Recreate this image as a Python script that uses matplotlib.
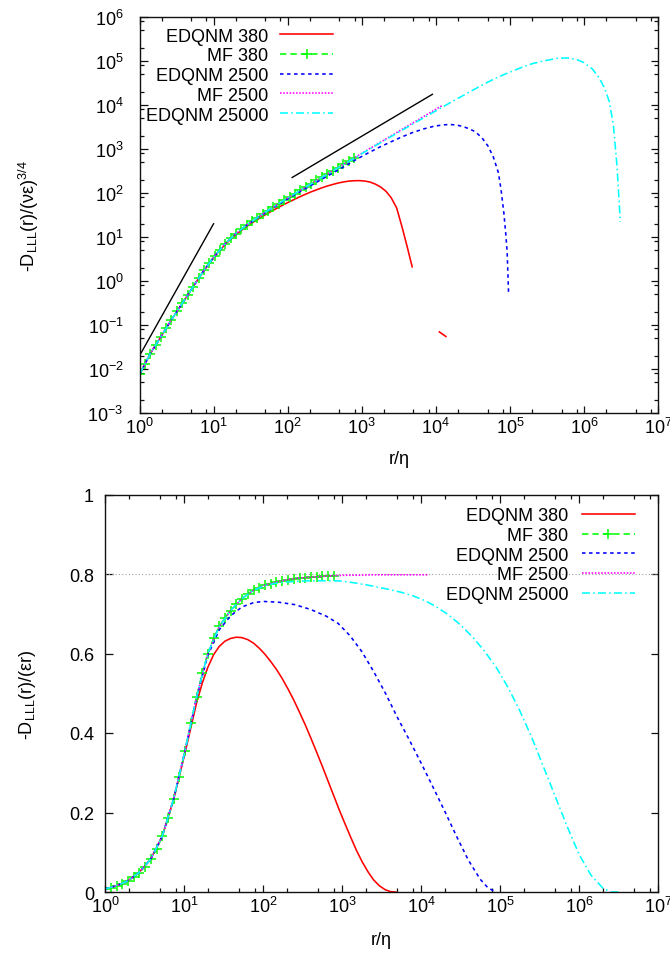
import numpy as np
import matplotlib
matplotlib.use('Agg')
import matplotlib.pyplot as plt
from matplotlib.ticker import LogLocator, NullFormatter, LogFormatterMathtext

plt.rcParams['font.family'] = ['Liberation Sans', 'DejaVu Sans']
plt.rcParams['mathtext.fontset'] = 'custom'
plt.rcParams['mathtext.rm'] = 'Liberation Sans'
plt.rcParams['mathtext.it'] = 'Liberation Sans:italic'
plt.rcParams['mathtext.bf'] = 'Liberation Sans:bold'
plt.rcParams['mathtext.default'] = 'regular'

# ---------------- data ----------------
labels = ["EDQNM 380", "MF 380", "EDQNM 2500", "MF 2500", "EDQNM 25000"]

# MF 380
r_mf380 = [1.0, 1.18, 1.4, 1.65, 1.95, 2.3, 2.7, 3.2, 3.8, 4.5, 5.3, 6.3, 7.4, 8.7, 10.3, 12.2, 14.4,
           17, 20, 23.7, 28, 33, 39, 46, 54, 64, 76, 90, 106, 125, 148, 175, 207, 245, 290, 342,
           404, 477, 564, 666, 787]
v_mf380 = [0.0075, 0.011, 0.016, 0.021, 0.028, 0.037, 0.049, 0.064, 0.083, 0.108, 0.14, 0.185, 0.235,
           0.29, 0.355, 0.425, 0.49, 0.55, 0.60, 0.638, 0.668, 0.69, 0.708, 0.724, 0.738, 0.75, 0.759,
           0.766, 0.772, 0.776, 0.78, 0.783, 0.786, 0.788, 0.79, 0.791, 0.792, 0.793, 0.794, 0.795, 0.796]
y_mf380 = [0.0075, 0.013, 0.0224, 0.0347, 0.0546, 0.0851, 0.132, 0.205, 0.315, 0.486, 0.742, 1.17, 1.74,
           2.52, 3.66, 5.19, 7.06, 9.35, 12.0, 15.1, 18.7, 22.8, 27.6, 33.3, 39.9, 48.0, 57.7, 68.9,
           81.8, 97.0, 115, 137, 163, 193, 229, 271, 320, 378, 448, 529, 626]

# EDQNM 380
r_e380 = [1, 1.4, 1.95, 2.7, 3.8, 5.3, 7.4, 10.3, 14.4, 17, 20, 23.7, 28, 33, 39, 46, 54, 64, 76, 90,
          106, 125, 148, 175, 207, 245, 290, 342, 404, 477, 564, 666, 787, 930, 1100, 1300, 1530,
          1800, 2130, 2500, 2960, 3500, 4100, 4800]
v_e380 = [0.0075, 0.016, 0.028, 0.049, 0.083, 0.14, 0.233, 0.35, 0.475, 0.525, 0.565, 0.597, 0.618,
          0.631, 0.638, 0.641, 0.64, 0.635, 0.626, 0.613, 0.598, 0.58, 0.56, 0.537, 0.511, 0.483,
          0.452, 0.421, 0.387, 0.352, 0.316, 0.279, 0.242, 0.205, 0.17, 0.136, 0.104, 0.076, 0.051,
          0.031, 0.016, 0.006, 0.001, 0.0]
y_e380 = [0.0075, 0.0224, 0.0546, 0.132, 0.315, 0.742, 1.72, 3.6, 6.84, 8.9, 11.3, 14.1, 17.3, 20.8,
          24.9, 29.5, 34.6, 40.6, 47.6, 55.2, 63.4, 72.5, 82.9, 94, 106, 118, 131, 144, 156, 168,
          178, 186, 190, 191, 187, 177, 159, 137, 109, 78, 46, 17, 6.1, 2.1]
r_e380_tail = [11150, 13700]
y_e380_tail = [0.0697, 0.0548]

# EDQNM 2500
r_e2500_bot = [1, 1.4, 1.95, 2.7, 3.8, 5.3, 7.4, 10.3, 14.4, 20, 28, 39, 54, 76, 100, 158, 251, 398,
               631, 890, 1260, 1780, 2510, 3550, 5000, 7100, 10000, 14100, 20000, 28200, 39800,
               56200, 70800, 89000]
v_e2500 = [0.0075, 0.016, 0.028, 0.049, 0.083, 0.14, 0.235, 0.355, 0.488, 0.595, 0.66, 0.695, 0.717,
           0.728, 0.731, 0.729, 0.723, 0.711, 0.694, 0.676, 0.645, 0.605, 0.555, 0.5, 0.44, 0.383,
           0.325, 0.265, 0.203, 0.14, 0.08, 0.032, 0.01, 0.0]
r_e2500_top = [1, 1.4, 1.95, 2.7, 3.8, 5.3, 7.4, 10.3, 14.4, 20, 28, 39, 54, 76, 106, 148, 207, 290,
               404, 564, 800, 1200, 1700, 2400, 3400, 4800, 6800, 9500, 13000, 15500, 19000, 23000,
               28000, 34000, 42000, 51000, 60000, 70000, 76000, 83000, 88000, 92000, 96000]
y_e2500 = [0.0075, 0.0224, 0.0546, 0.132, 0.315, 0.742, 1.74, 3.66, 7.03, 11.9, 18.5, 27.1, 38.7,
           55.3, 77.5, 108, 149, 206, 283, 389, 550, 800, 1080, 1420, 1850, 2350, 2850, 3300, 3550,
           3600, 3520, 3250, 2900, 2480, 1800, 1150, 650, 290, 120, 35, 12, 4.4, 0.55]

# MF 2500
r_mf2500 = [1, 1.4, 1.95, 2.7, 3.8, 5.3, 7.4, 10.3, 14.4, 20, 28, 39, 54, 76, 106, 148, 207, 290,
            404, 564, 800, 1150, 1650, 2400, 3400, 4900, 7000, 10000, 12500]
v_mf2500 = [0.0075, 0.016, 0.028, 0.049, 0.083, 0.14, 0.235, 0.355, 0.49, 0.6, 0.668, 0.708, 0.738,
            0.759, 0.772, 0.78, 0.786, 0.79, 0.792, 0.794, 0.796, 0.797, 0.797, 0.798, 0.798, 0.798,
            0.798, 0.798, 0.798]
y_mf2500 = [0.0075, 0.0224, 0.0546, 0.132, 0.315, 0.742, 1.74, 3.66, 7.06, 12.0, 18.7, 27.6, 39.9,
            57.7, 81.8, 115, 163, 229, 320, 448, 637, 917, 1315, 1915, 2713, 3910, 5590, 7980, 9980]

# EDQNM 25000
r_e25000_bot = [1, 1.4, 1.95, 2.7, 3.8, 5.3, 7.4, 10.3, 14.4, 20, 28, 39, 54, 76, 106, 148, 207, 290,
                404, 564, 800, 1000, 1410, 2000, 2820, 3980, 5620, 7940, 11200, 15800, 22400, 31600,
                44700, 63100, 89100, 126000, 178000, 251000, 355000, 501000, 708000, 1.0e6, 1.41e6,
                2.0e6, 2.51e6, 3.16e6]
v_e25000 = [0.0075, 0.016, 0.028, 0.049, 0.083, 0.14, 0.235, 0.355, 0.49, 0.6, 0.668, 0.708, 0.738,
            0.759, 0.771, 0.777, 0.78, 0.782, 0.783, 0.783, 0.783, 0.782, 0.778, 0.773, 0.767,
            0.761, 0.754, 0.745, 0.733, 0.717, 0.697, 0.672, 0.642, 0.607, 0.566, 0.515, 0.456,
            0.39, 0.315, 0.24, 0.165, 0.095, 0.043, 0.01, 0.0, 0.0]
r_e25000_top = [1, 1.4, 1.95, 2.7, 3.8, 5.3, 7.4, 10.3, 14.4, 20, 28, 39, 54, 76, 106, 148, 207, 290,
                404, 564, 800, 1200, 1800, 2700, 4000, 6000, 9000, 13500, 20000, 30000, 45000, 65000,
                95000, 140000, 200000, 300000, 450000, 600000, 800000, 1e6, 1.3e6, 1.6e6, 1.9e6,
                2.2e6, 2.5e6, 2.8e6, 3.1e6]
y_e25000 = [0.0075, 0.0224, 0.0546, 0.132, 0.315, 0.742, 1.74, 3.66, 7.06, 12.0, 18.7, 27.6, 39.9,
            57.7, 81.7, 115, 161, 227, 316, 442, 626, 936, 1395, 2074, 3040, 4500, 6640, 9800, 14200,
            20700, 30000, 41000, 54000, 70000, 87000, 102000, 116000, 117000, 108000, 92000, 66000,
            42000, 24000, 12000, 3500, 400, 22]

# reference power laws (top panel)
ref3_r = [1, 10]
ref3_y = [0.02, 20]
ref1_r = [115, 9000]
ref1_y = [225, 17500]
ref_level = 0.8

# ---------------- styles ----------------
RED, GREEN, BLUE, MAG, CYAN = '#ff0000', '#00ff00', '#0000ff', '#ff00ff', '#00ffff'
LW = 1.15
st_e380 = dict(color=RED, lw=LW, ls='-')
st_mf380 = dict(color=GREEN, lw=LW, ls=(0, (4, 2.5)), marker='+', ms=7, mew=1.1)
st_e2500 = dict(color=BLUE, lw=LW, ls=(0, (2.2, 2.2)))
st_mf2500 = dict(color=MAG, lw=LW, ls=(0, (1, 1)))
st_e25000 = dict(color=CYAN, lw=LW, ls=(0, (5, 2, 1, 2)))

FS = 13
W, H = 670, 954
fig = plt.figure(figsize=(W / 100, H / 100), dpi=100)


def style_axes(ax, ypad):
    for s in ax.spines.values():
        s.set_linewidth(1.0)
        s.set_color('#111111')
    ax.tick_params(which='both', direction='in', top=True, right=True, labelsize=FS, width=0.9,
                   color='#111111')
    ax.tick_params(which='major', length=5.4)
    ax.tick_params(which='minor', length=2.9)
    ax.tick_params(axis='y', pad=ypad)
    ax.tick_params(axis='x', pad=3)


def log_x(ax):
    ax.set_xscale('log')
    ax.set_xlim(1, 1e7)
    ax.xaxis.set_major_locator(LogLocator(base=10, numticks=20))
    ax.xaxis.set_minor_locator(LogLocator(base=10, subs=(2, 5, 8), numticks=20))
    ax.xaxis.set_major_formatter(LogFormatterMathtext())
    ax.xaxis.set_minor_formatter(NullFormatter())


# ---------------- top panel ----------------
ax1 = fig.add_axes([139.5 / W, 1 - 414 / H, (658 - 139.5) / W, (414 - 18) / H])
log_x(ax1)
ax1.set_yscale('log')
ax1.set_ylim(1e-3, 1e6)
ax1.yaxis.set_major_locator(LogLocator(base=10, numticks=20))
ax1.yaxis.set_minor_locator(LogLocator(base=10, subs=(2, 5, 8), numticks=20))
ax1.yaxis.set_major_formatter(LogFormatterMathtext())
ax1.yaxis.set_minor_formatter(NullFormatter())

h1 = ax1.plot(r_e380, y_e380, label=labels[0], **st_e380)[0]
ax1.plot(r_e380_tail, y_e380_tail, **st_e380)
h2 = ax1.plot(r_mf380, y_mf380, label=labels[1], **st_mf380)[0]
h3 = ax1.plot(r_e2500_top, y_e2500, label=labels[2], **st_e2500)[0]
h4 = ax1.plot(r_mf2500, y_mf2500, label=labels[3], **st_mf2500)[0]
h5 = ax1.plot(r_e25000_top, y_e25000, label=labels[4], **st_e25000)[0]
ax1.plot(ref3_r, ref3_y, color='black', lw=1.0)
ax1.plot(ref1_r, ref1_y, color='black', lw=1.0)
style_axes(ax1, 11.5)

ax1.legend(handles=[h1, h2, h3, h4, h5], loc='upper left', bbox_to_anchor=(0.012, 0.973),
           frameon=False, markerfirst=False, handlelength=2.95, handletextpad=0.66,
           labelspacing=0.15, borderaxespad=0, borderpad=0, fontsize=FS, numpoints=1)

fig.text(29 / W, 1 - 216 / H, '-D$_{LLL}$(r)/(νε)$^{3/4}$', rotation=90, ha='center',
         va='center', fontsize=FS)
fig.text(399 / W, 1 - 460 / H, 'r/η', ha='center', va='center', fontsize=FS)

# ---------------- bottom panel ----------------
ax2 = fig.add_axes([105 / W, 1 - 893 / H, (658 - 105) / W, (893 - 495.5) / H])
log_x(ax2)
ax2.set_ylim(0, 1)
ax2.set_yticks([0, 0.2, 0.4, 0.6, 0.8, 1.0])
ax2.set_yticklabels(['0', '0.2', '0.4', '0.6', '0.8', '1'])

ax2.axhline(ref_level, color='#a0a0a0', lw=0.8, ls=(0, (1, 2)))
g1 = ax2.plot(r_e380, v_e380, label=labels[0], **st_e380)[0]
g2 = ax2.plot(r_mf380, v_mf380, label=labels[1], **st_mf380)[0]
g3 = ax2.plot(r_e2500_bot, v_e2500, label=labels[2], **st_e2500)[0]
g4 = ax2.plot(r_mf2500, v_mf2500, label=labels[3], **st_mf2500)[0]
g5 = ax2.plot(r_e25000_bot, v_e25000, label=labels[4], **st_e25000)[0]
style_axes(ax2, 8)

ax2.legend(handles=[g1, g2, g3, g4, g5], loc='upper right', bbox_to_anchor=((635 - 105) / 553, 0.968),
           frameon=False, markerfirst=False, handlelength=2.95, handletextpad=0.75,
           labelspacing=0.15, borderaxespad=0, borderpad=0, fontsize=FS, numpoints=1)

fig.text(28 / W, 1 - 695 / H, '-D$_{LLL}$(r)/(εr)', rotation=90, ha='center', va='center',
         fontsize=FS)
fig.text(381 / W, 1 - 941 / H, 'r/η', ha='center', va='center', fontsize=FS)

fig.savefig('out.png', dpi=100)
